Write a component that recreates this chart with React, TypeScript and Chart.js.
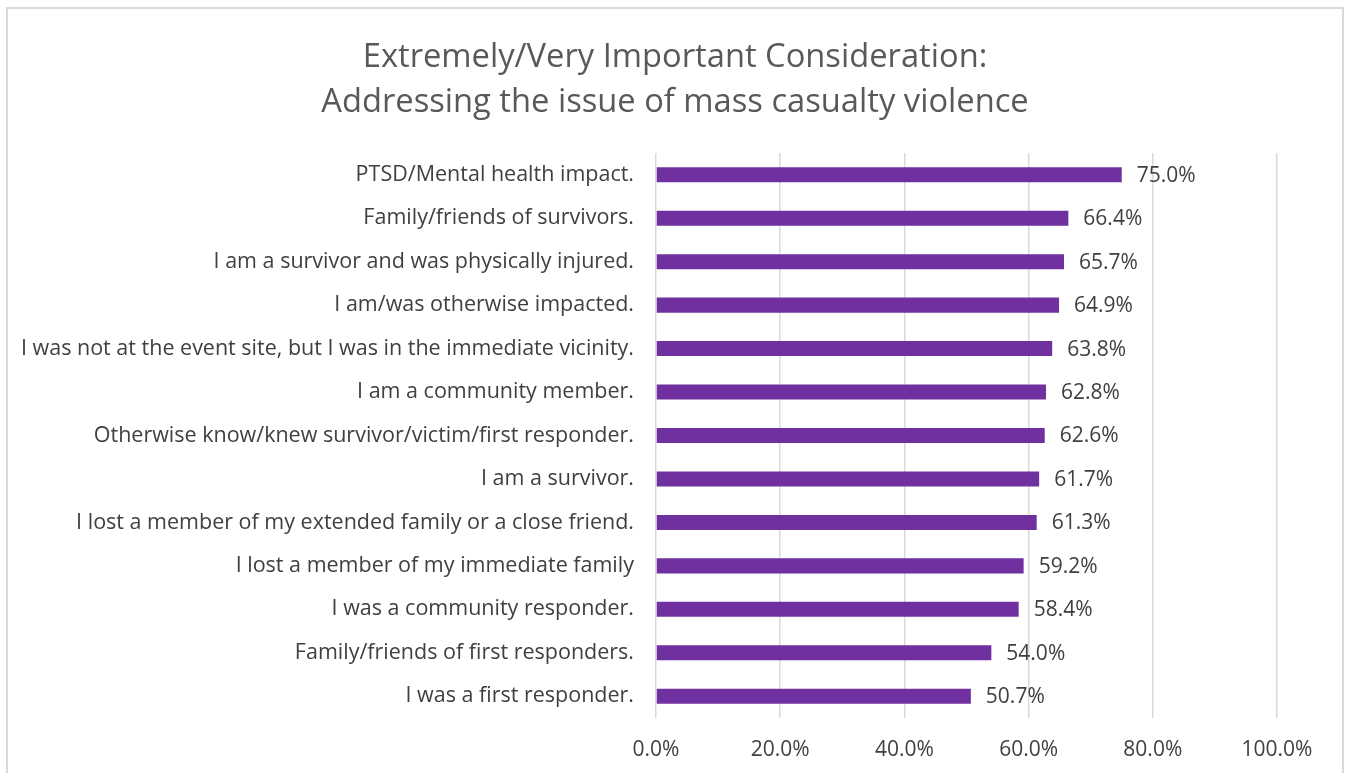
import React, { useEffect, useRef } from "react";
import { Chart, registerables } from "chart.js";

Chart.register(...registerables);

const titleLines = [
  "Extremely/Very Important Consideration:",
  "Addressing the issue of mass casualty violence",
];

const categories = [
  "PTSD/Mental health impact.",
  "Family/friends of survivors.",
  "I am a survivor and was physically injured.",
  "I am/was otherwise impacted.",
  "I was not at the event site, but I was in the immediate vicinity.",
  "I am a community member.",
  "Otherwise know/knew survivor/victim/first responder.",
  "I am a survivor.",
  "I lost a member of my extended family or a close friend.",
  "I lost a member of my immediate family",
  "I was a community responder.",
  "Family/friends of first responders.",
  "I was a first responder.",
];

const values = [75.0, 66.4, 65.7, 64.9, 63.8, 62.8, 62.6, 61.7, 61.3, 59.2, 58.4, 54.0, 50.7];

const xTicks = [0, 20, 40, 60, 80, 100];

const FONT = "'Open Sans', Lato, sans-serif";
const TEXT = "#404040";

const dataLabelPlugin = {
  id: "dataLabels",
  afterDatasetsDraw(chart: any) {
    const ctx = chart.ctx;
    const meta = chart.getDatasetMeta(0);
    ctx.save();
    ctx.font = `21px ${FONT}`;
    ctx.fillStyle = TEXT;
    ctx.textAlign = "left";
    ctx.textBaseline = "middle";
    meta.data.forEach((bar: any, i: number) => {
      ctx.fillText(values[i].toFixed(1) + "%", bar.x + 15, bar.y + 1);
    });
    ctx.restore();
  },
};

export default function App() {
  const ref = useRef<HTMLCanvasElement>(null);
  useEffect(() => {
    if (!ref.current) return;
    const chart = new Chart(ref.current, {
      type: "bar",
      data: {
        labels: categories,
        datasets: [
          {
            data: values,
            backgroundColor: "#7030A0",
            borderWidth: 0,
            categoryPercentage: 1,
            barPercentage: 0.346,
          },
        ],
      },
      options: {
        indexAxis: "y",
        animation: false,
        responsive: false,
        layout: { padding: 0 },
        plugins: {
          legend: { display: false },
          tooltip: { enabled: false },
          title: {
            display: true,
            text: titleLines,
            color: "#595959",
            font: { family: FONT, size: 32.7, weight: "normal", lineHeight: 1.376 },
            padding: { top: 26, bottom: 28 },
          },
        },
        scales: {
          x: {
            min: 0,
            max: 100,
            afterBuildTicks(scale: any) {
              scale.ticks = xTicks.map((v) => ({ value: v }));
            },
            afterFit(scale: any) {
              scale.height = 55;
              scale.paddingRight = 65;
            },
            grid: { color: "#d9d9d9", lineWidth: 1.5, drawTicks: false },
            border: { display: false },
            ticks: {
              padding: 19,
              color: TEXT,
              font: { family: FONT, size: 21 },
              callback: (v: any) => Number(v).toFixed(1) + "%",
            },
          },
          y: {
            afterFit(scale: any) {
              scale.width = 648;
            },
            grid: { display: false, drawTicks: false },
            border: { display: false },
            ticks: {
              padding: 22,
              color: TEXT,
              font: { family: FONT, size: 21.5 },
              autoSkip: false,
            },
          },
        },
      },
      plugins: [dataLabelPlugin],
    });
    return () => chart.destroy();
  }, []);
  return (
    <div
      style={{
        position: "absolute",
        left: 6,
        top: 7,
        width: 1334,
        height: 780,
        border: "2px solid #d9d9d9",
        background: "#fff",
      }}
    >
      <canvas ref={ref} width={1334} height={764} style={{ display: "block", width: 1334, height: 764 }} />
    </div>
  );
}
